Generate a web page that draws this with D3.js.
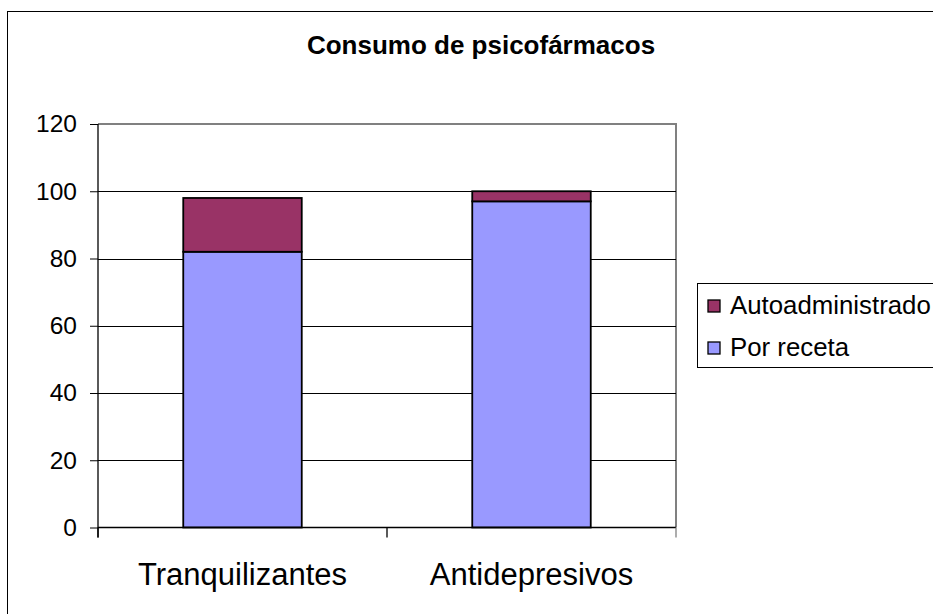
<!DOCTYPE html>
<html>
<head>
<meta charset="utf-8">
<script src="https://cdn.jsdelivr.net/npm/d3@7"></script>
<style>
  body { margin: 0; background: #fff; }
  svg { display: block; font-family: "Liberation Sans", Arial, sans-serif; }
</style>
</head>
<body>
<div id="chart"></div>
<script>
// data
var categories = ["Tranquilizantes", "Antidepresivos"];
var porReceta = [82, 97];
var autoadministrado = [16, 3];
var yTicks = [0, 20, 40, 60, 80, 100, 120];
var seriesNames = ["Autoadministrado", "Por receta"];
var seriesColors = ["#993366", "#9999FF"];

var width = 933, height = 614;
var margin = {top: 124, left: 98, right: 257, bottom: 86};

var svg = d3.select("#chart").append("svg")
    .attr("width", width)
    .attr("height", height);

// outer chart border (cut off on right and bottom)
svg.append("rect")
    .attr("x", 7.5).attr("y", 11.5)
    .attr("width", 940).attr("height", 620)
    .attr("fill", "none").attr("stroke", "#000").attr("stroke-width", 1);

// title
svg.append("text")
    .attr("x", 481).attr("y", 54)
    .attr("text-anchor", "middle")
    .attr("font-weight", "bold")
    .attr("font-size", 26)
    .text("Consumo de psicofármacos");

var x = d3.scaleBand()
    .domain(categories)
    .range([margin.left, width - margin.right])
    .paddingInner(0.59)
    .paddingOuter(0.295);

var y = d3.scaleLinear()
    .domain([0, 120])
    .range([527.5, margin.top]);

var x0 = margin.left, x1 = width - margin.right;

// plot area border (grey, top and right)
svg.append("path")
    .attr("d", "M" + x0 + "," + y(120) + "H" + x1 + "V" + y(0))
    .attr("fill", "none").attr("stroke", "#808080").attr("stroke-width", 2);

// gridlines
svg.append("g")
    .selectAll("line")
    .data(yTicks.filter(function(d) { return d > 0 && d < 120; }))
    .enter()
    .append("line")
    .attr("x1", x0).attr("x2", x1)
    .attr("y1", function(d) { return Math.round(y(d)) + 0.5; })
    .attr("y2", function(d) { return Math.round(y(d)) + 0.5; })
    .attr("stroke", "#000").attr("stroke-width", 1);

// y axis
var yAxis = d3.axisLeft(y)
    .tickValues(yTicks)
    .tickSize(8)
    .tickPadding(13);
var gy = svg.append("g")
    .attr("transform", "translate(" + x0 + ",0)")
    .call(yAxis);
gy.select(".domain").remove();
gy.selectAll(".tick line").attr("stroke", "#000");
gy.selectAll(".tick text")
    .attr("font-size", 24.5)
    .attr("font-family", "Liberation Sans, Arial, sans-serif")
    .attr("fill", "#000");
svg.append("line")
    .attr("x1", x0).attr("x2", x0)
    .attr("y1", y(120)).attr("y2", y(0) + 10)
    .attr("stroke", "#000").attr("stroke-width", 1.3);

// bars
var stacked = categories.map(function(c, i) {
    return [
        {cat: c, y0: 0, y1: porReceta[i], color: seriesColors[1]},
        {cat: c, y0: porReceta[i], y1: porReceta[i] + autoadministrado[i], color: seriesColors[0]}
    ];
});
svg.append("g")
    .selectAll("rect")
    .data(d3.merge(stacked))
    .enter()
    .append("rect")
    .attr("x", function(d) { return x(d.cat); })
    .attr("y", function(d) { return y(d.y1); })
    .attr("width", x.bandwidth())
    .attr("height", function(d) { return y(d.y0) - y(d.y1); })
    .attr("fill", function(d) { return d.color; })
    .attr("stroke", "#000")
    .attr("stroke-width", 1.8);

// x axis
svg.append("line")
    .attr("x1", x0).attr("x2", x1)
    .attr("y1", y(0)).attr("y2", y(0))
    .attr("stroke", "#000").attr("stroke-width", 1.3);
var bounds = [x0].concat(categories.map(function(c) { return x(c) - x.step() * x.paddingInner() / 2 + x.step(); }));
svg.append("g")
    .selectAll("line")
    .data(bounds)
    .enter()
    .append("line")
    .attr("x1", function(d) { return d; }).attr("x2", function(d) { return d; })
    .attr("y1", y(0)).attr("y2", y(0) + 10)
    .attr("stroke", function(d, i) { return i == bounds.length - 1 ? "#808080" : "#000"; })
    .attr("stroke-width", 1.3);

svg.append("g")
    .selectAll("text")
    .data(categories)
    .enter()
    .append("text")
    .attr("x", function(d) { return x(d) + x.bandwidth() / 2; })
    .attr("y", 585)
    .attr("text-anchor", "middle")
    .attr("font-size", 31)
    .text(function(d) { return d; });

// legend
var legend = svg.append("g").attr("transform", "translate(697,283)");
legend.append("rect")
    .attr("x", 0.5).attr("y", 0.5)
    .attr("width", 260).attr("height", 84)
    .attr("fill", "#fff").attr("stroke", "#000").attr("stroke-width", 1);
var items = legend.selectAll("g.item")
    .data(seriesNames)
    .enter()
    .append("g")
    .attr("class", "item")
    .attr("transform", function(d, i) { return "translate(0," + (i * 42) + ")"; });
items.append("rect")
    .attr("x", 11).attr("y", 17)
    .attr("width", 12).attr("height", 12)
    .attr("fill", function(d, i) { return seriesColors[i]; })
    .attr("stroke", "#000").attr("stroke-width", 1.3);
items.append("text")
    .attr("x", 33).attr("y", 31)
    .attr("font-size", 25.8)
    .text(function(d) { return d; });
</script>
</body>
</html>
